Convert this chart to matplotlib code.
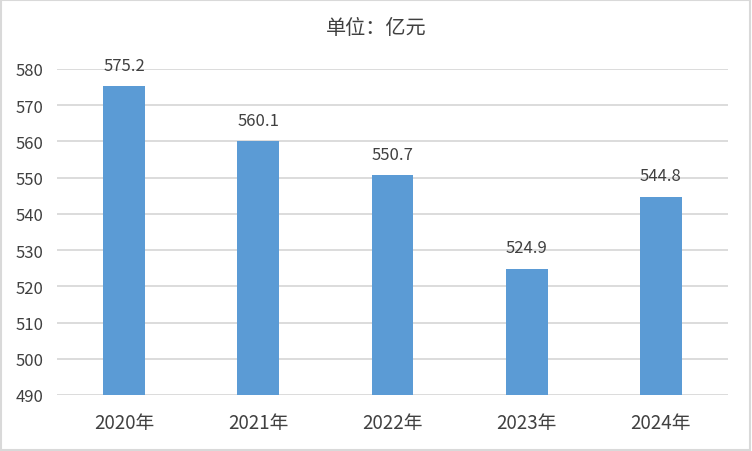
import matplotlib.pyplot as plt
import numpy as np

plt.rcParams['font.family'] = ['Noto Sans CJK SC', 'DejaVu Sans']

years = ['2020年', '2021年', '2022年', '2023年', '2024年']
values = [575.2, 560.1, 550.7, 524.9, 544.8]
yticks = [490, 500, 510, 520, 530, 540, 550, 560, 570, 580]

fig = plt.figure(figsize=(7.52, 4.52), dpi=100)
ax = fig.add_axes([57 / 752, 1 - 396 / 452, (728 - 57) / 752, (396 - 70) / 452])

x = np.arange(len(years))
bars = ax.bar(x, values, width=0.31, color='#5B9BD5', zorder=3)

for xi, v in zip(x, values):
    ax.annotate(f'{v:.1f}', (xi, v), xytext=(0, 9), textcoords='offset points',
                ha='center', va='bottom', fontsize=12, color='#404040')

ax.set_xlim(-0.5, len(years) - 0.5)
ax.set_ylim(490, 580)
ax.set_yticks(yticks)
ax.set_xticks(x)
ax.set_xticklabels(years)
ax.tick_params(axis='both', length=0, labelsize=12, colors='#404040')
ax.tick_params(axis='x', pad=12, labelsize=13.5)
ax.tick_params(axis='y', pad=9.5)
ax.yaxis.grid(True, color='#d9d9d9', linewidth=1.3, zorder=0)
for s in ax.spines.values():
    s.set_visible(False)

fig.text(0.5, 1 - 28 / 452, '单位：亿元', ha='center', va='center', fontsize=14.5, color='#404040')

# outer border
fig.add_artist(plt.Rectangle((0.001, 0.002), 0.997, 0.996, transform=fig.transFigure,
                             fill=False, edgecolor='#d9d9d9', linewidth=1.5))

fig.savefig('out.png', dpi=100)
